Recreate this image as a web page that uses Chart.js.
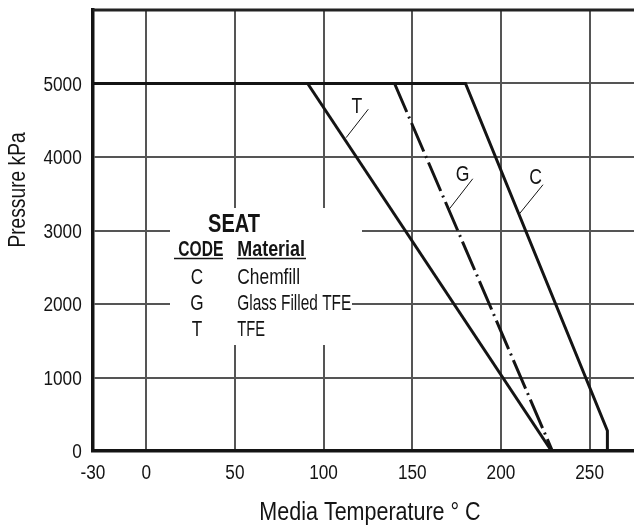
<!DOCTYPE html>
<html>
<head>
<meta charset="utf-8">
<script src="https://cdn.jsdelivr.net/npm/chart.js@4.4.1/dist/chart.umd.min.js"></script>
<style>
  html, body { margin: 0; padding: 0; background: #fff; overflow: hidden; }
  #wrap { width: 634px; height: 525px; }
</style>
</head>
<body>
<div id="wrap"><canvas id="seat-chart" width="634" height="525"></canvas></div>
<script>
// Seat ratings: pressure vs media temperature
const tempTicks = [-30, 0, 50, 100, 150, 200, 250];
const pressureTicks = [0, 1000, 2000, 3000, 4000, 5000];

const chemfillTemp = [-30, 180, 260, 260];
const chemfillPressure = [5000, 5000, 275, 0];
const glassTemp = [140, 229];
const glassPressure = [5000, 0];
const tfeTemp = [91, 228.5];
const tfePressure = [5000, 0];

const seatCodes = ['C', 'G', 'T'];
const seatMaterials = ['Chemfill', 'Glass Filled TFE', 'TFE'];

const FONT = "'Liberation Sans', Arial, sans-serif";
const INK = '#141414';

// curve labels, in data units: text spot (baseline), then leader line from / to
const curveTags = [
	{ text: 'T', at: [118.7, 4605], from: [125.2, 4650], to: [112.7, 4263] },
	{ text: 'G', at: [178.4, 3668], from: [184.1, 3704], to: [171, 3296] },
	{ text: 'C', at: [219.5, 3636], from: [223.7, 3623], to: [210.4, 3227] }
];

function toPoints(xs, ys) {
	return xs.map(function (x, i) { return { x: x, y: ys[i] }; });
}

// the original uses a condensed face, so squeeze the text sideways
function squeezedText(c, text, x, y, font, align, sx) {
	c.save();
	c.font = font;
	c.textAlign = align;
	c.textBaseline = 'alphabetic';
	c.translate(x, y);
	c.scale(sx, 1);
	c.fillText(text, 0, 0);
	c.restore();
}

// same, but fit to a given width
function fittedText(c, text, x, y, font, align, width) {
	c.save();
	c.font = font;
	const w = c.measureText(text).width;
	c.restore();
	squeezedText(c, text, x, y, font, align, width / w);
}

const seatDecor = {
	id: 'seatDecor',
	beforeDatasetsDraw(chart) {
		const c = chart.ctx;
		c.save();
		// the key sits on a white patch that hides the grid
		c.fillStyle = '#fff';
		c.fillRect(170, 208, 182, 137);
		c.fillRect(352, 220, 10, 20);

		c.fillStyle = INK;
		fittedText(c, 'SEAT', 234, 232, 'bold 26px ' + FONT, 'center', 52);
		fittedText(c, 'CODE', 200.8, 256, 'bold 22px ' + FONT, 'center', 45);
		fittedText(c, 'Material', 237.3, 256, 'bold 22px ' + FONT, 'left', 67.7);

		c.strokeStyle = INK;
		c.lineWidth = 1.5;
		c.beginPath();
		c.moveTo(174, 258.5); c.lineTo(223, 258.5);
		c.moveTo(237, 258.5); c.lineTo(306, 258.5);
		c.stroke();

		const rowBase = [284, 309.5, 335.5];
		const nameWidth = [62.7, 114, 27.7];
		seatCodes.forEach(function (code, i) {
			squeezedText(c, code, 197, rowBase[i], '22px ' + FONT, 'center', 0.78);
			fittedText(c, seatMaterials[i], 237.3, rowBase[i], '22px ' + FONT, 'left', nameWidth[i]);
		});
		c.restore();
	},
	afterDatasetsDraw(chart) {
		const c = chart.ctx;
		const xs = chart.scales.x, ys = chart.scales.y;
		const area = chart.chartArea;
		c.save();
		// top frame line
		c.strokeStyle = '#222';
		c.lineWidth = 3;
		c.beginPath();
		c.moveTo(area.left, area.top);
		c.lineTo(area.right, area.top);
		c.stroke();

		c.fillStyle = INK;
		c.strokeStyle = INK;
		c.lineWidth = 1;
		curveTags.forEach(function (tag) {
			squeezedText(c, tag.text, xs.getPixelForValue(tag.at[0]), ys.getPixelForValue(tag.at[1]), '22px ' + FONT, 'center', 0.8);
			c.beginPath();
			c.moveTo(xs.getPixelForValue(tag.from[0]), ys.getPixelForValue(tag.from[1]));
			c.lineTo(xs.getPixelForValue(tag.to[0]), ys.getPixelForValue(tag.to[1]));
			c.stroke();
		});
		c.restore();
	},
	afterDraw(chart) {
		const c = chart.ctx;
		const xs = chart.scales.x, ys = chart.scales.y;
		c.save();
		c.fillStyle = INK;

		// tick labels, placed by the scales
		xs.ticks.forEach(function (t) {
			squeezedText(c, String(t.value), xs.getPixelForValue(t.value), 479, '20px ' + FONT, 'center', 0.86);
		});
		ys.ticks.forEach(function (t) {
			squeezedText(c, String(t.value), 81.7, ys.getPixelForValue(t.value) + 7, '20px ' + FONT, 'right', 0.86);
		});

		// axis titles
		squeezedText(c, 'Media Temperature \u00B0 C', 370, 520, '25px ' + FONT, 'center', 0.86);
		c.translate(25, 190);
		c.rotate(-Math.PI / 2);
		squeezedText(c, 'Pressure kPa', 0, 0, '24px ' + FONT, 'center', 0.8);
		c.restore();
	}
};

document.addEventListener('DOMContentLoaded', function () {
	const ctx = document.getElementById('seat-chart');
	if (!ctx || !window.Chart) return;

	const lineStyle = {
		showLine: true,
		borderColor: INK,
		borderWidth: 3,
		pointRadius: 0,
		borderJoinStyle: 'miter',
		fill: false
	};

	new Chart(ctx, {
		type: 'scatter',
		data: {
			datasets: [
				Object.assign({ label: 'C', data: toPoints(chemfillTemp, chemfillPressure) }, lineStyle),
				Object.assign({ label: 'G', data: toPoints(glassTemp, glassPressure), borderDash: [31, 5, 2, 5] }, lineStyle),
				Object.assign({ label: 'T', data: toPoints(tfeTemp, tfePressure) }, lineStyle)
			]
		},
		options: {
			responsive: false,
			animation: false,
			layout: { padding: { top: 10, left: 0, right: 0, bottom: 0 } },
			plugins: {
				legend: { display: false },
				tooltip: { enabled: false }
			},
			scales: {
				x: {
					type: 'linear',
					min: -30,
					max: 275,
					afterBuildTicks: function (s) { s.ticks = tempTicks.map(function (v) { return { value: v }; }); },
					afterFit: function (s) { s.height = 74; },
					ticks: { display: false },
					grid: { color: '#555', lineWidth: 2, drawTicks: false },
					border: { display: true, color: INK, width: 3.5 }
				},
				y: {
					type: 'linear',
					min: 0,
					max: 6000,
					afterBuildTicks: function (s) { s.ticks = pressureTicks.map(function (v) { return { value: v }; }); },
					afterFit: function (s) { s.width = 93; },
					ticks: { display: false },
					grid: { color: '#555', lineWidth: 2, drawTicks: false },
					border: { display: true, color: INK, width: 3.5 }
				}
			}
		},
		plugins: [seatDecor]
	});
});
</script>
</body>
</html>
